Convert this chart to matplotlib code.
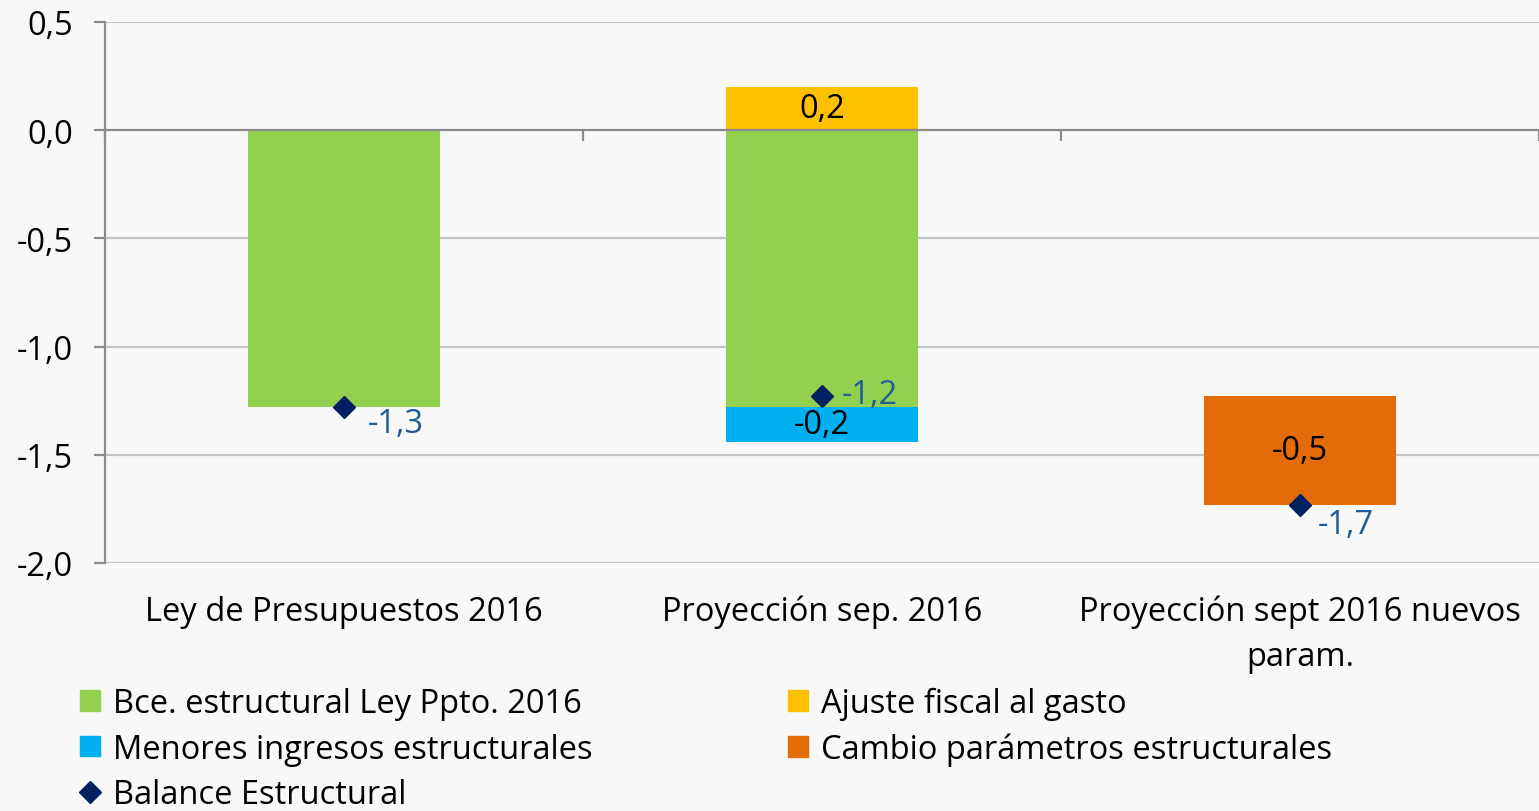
import numpy as np
import matplotlib
matplotlib.use("Agg")
import matplotlib.pyplot as plt
from matplotlib.patches import Patch
from matplotlib.lines import Line2D
from matplotlib.ticker import FixedLocator

plt.rcParams['font.family'] = ['Open Sans', 'DejaVu Sans']

categories = ["Ley de Presupuestos 2016", "Proyección sep. 2016", "Proyección sept 2016 nuevos\nparam."]
bce = [-1.28, -1.28, np.nan]
ajuste = [np.nan, 0.20, np.nan]
menores = [np.nan, -0.16, np.nan]
menores_base = [np.nan, -1.28, np.nan]
cambio = [np.nan, np.nan, -0.50]
cambio_base = [np.nan, np.nan, -1.23]
balance = [-1.28, -1.23, -1.73]

yticks = [0.5, 0.0, -0.5, -1.0, -1.5, -2.0]
ytick_labels = ["0,5", "0,0", "-0,5", "-1,0", "-1,5", "-2,0"]

names = ["Bce. estructural Ley Ppto. 2016", "Ajuste fiscal al gasto",
         "Menores ingresos estructurales", "Cambio parámetros estructurales",
         "Balance Estructural"]
colors = ["#92D050", "#FFC000", "#00B0F0", "#E36C09", "#002060"]
label_blue = "#1F5C99"
bg = "#F8F8F8"

def fmt(v):
    return f"{v:.1f}".replace(".", ",")

fig = plt.figure(figsize=(15.39, 8.12), dpi=100, facecolor=bg)
ax = fig.add_axes([105/1539, (812-564)/812, 1 - 105/1539, (564-23)/812])
ax.set_facecolor(bg)

x = np.arange(len(categories))
w = 0.4
ax.bar(x, bce, w, color=colors[0], zorder=2)
ax.bar(x, ajuste, w, color=colors[1], zorder=2)
ax.bar(x, menores, w, bottom=menores_base, color=colors[2], zorder=2)
ax.bar(x, cambio, w, bottom=cambio_base, color=colors[3], zorder=2)
ax.plot(x, balance, linestyle='none', marker='D', markersize=11, color=colors[4], zorder=4)

fs = 23.5
# bar value labels
for vals, base in [(ajuste, None), (menores, menores_base), (cambio, cambio_base)]:
    for i, v in enumerate(vals):
        if np.isnan(v):
            continue
        b = 0 if base is None else base[i]
        ax.text(x[i], b + v / 2, fmt(v), ha='center', va='center', fontsize=fs, color='black', zorder=5)

# balance labels
offsets = [(17, -12), (14, 1), (13, -14)]
for i, v in enumerate(balance):
    ax.annotate(fmt(v), (x[i], v), xytext=offsets[i], textcoords='offset points',
                ha='left', va='center', fontsize=fs, color=label_blue, zorder=5)

ax.set_xlim(-0.5, 2.5)
ax.set_ylim(-2.0, 0.5)
ax.xaxis.set_minor_locator(FixedLocator([-0.5, 0.5, 1.5, 2.5]))

for yv in yticks:
    if yv != 0:
        ax.axhline(yv, color="#C3C3C3", linewidth=1.6, zorder=1)

for s in ['right', 'bottom']:
    ax.spines[s].set_visible(False)
ax.spines['left'].set_color("#8C8C8C")
ax.spines['left'].set_linewidth(1.6)
ax.spines['top'].set_position(('data', 0))
ax.spines['top'].set_color("#8C8C8C")
ax.spines['top'].set_linewidth(1.6)
ax.spines['top'].set_zorder(3)

ax.tick_params(axis='y', length=8, width=1.6, color="#8C8C8C", pad=15, labelsize=fs)
ax.tick_params(axis='x', which='major', length=0, pad=23, labelsize=fs)
ax.tick_params(axis='x', which='minor', bottom=False, top=True, direction='in', length=8, width=1.6, color="#8C8C8C")

ax.set_yticks(yticks)
ax.set_yticklabels(ytick_labels, fontsize=fs)
ax.set_xticks(x)
ax.set_xticklabels(categories, fontsize=fs, multialignment='center', linespacing=1.45)

handles = [Patch(color=colors[0]), Patch(color=colors[2]),
           Line2D([], [], linestyle='none', marker='D', markersize=11, color=colors[4]),
           Patch(color=colors[1]), Patch(color=colors[3])]
labels = [names[0], names[2], names[4], names[1], names[3]]
fig.legend(handles, labels, loc='upper left', bbox_to_anchor=(80/1539, 1 - 688/812),
           ncol=2, frameon=False, fontsize=fs, handlelength=0.6, handleheight=0.6,
           handletextpad=0.4, columnspacing=6.0, labelspacing=0.38, borderaxespad=0,
           borderpad=0)

fig.savefig("out.png", dpi=100, facecolor=bg)
